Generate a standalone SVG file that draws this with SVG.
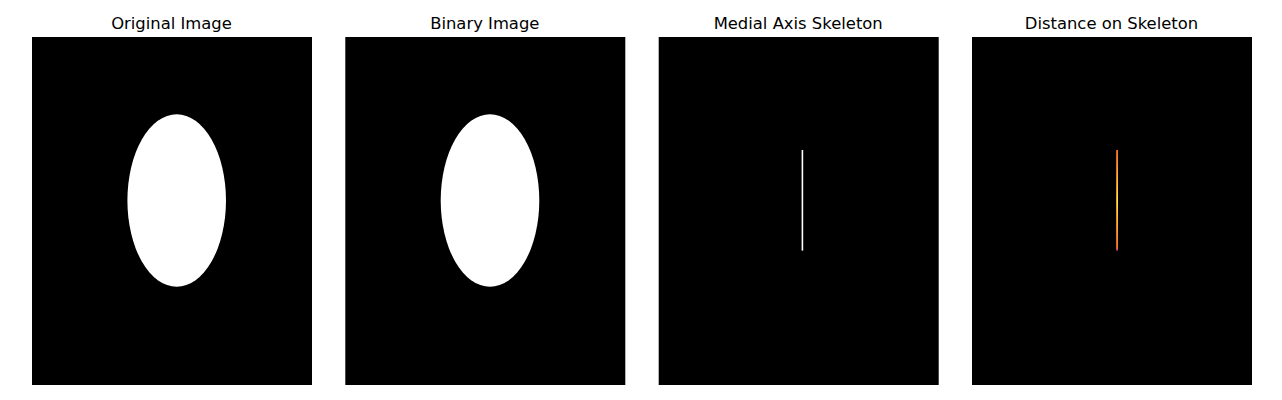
<svg xmlns="http://www.w3.org/2000/svg" width="1282" height="400" viewBox="0 0 1282 400">
<style>
.t{font-family:"DejaVu Sans",sans-serif;font-size:16.4px;fill:#000;text-anchor:middle}
.bg{fill:#000}
</style>
<defs>
<linearGradient id="gA" x1="0" y1="150" x2="0" y2="251" gradientUnits="userSpaceOnUse">
<stop offset="0" stop-color="#e8502a"/>
<stop offset="0.5" stop-color="#f0a020"/>
<stop offset="0.97" stop-color="#e8582a"/>
<stop offset="1" stop-color="#8a2a8a"/>
</linearGradient>
<linearGradient id="gB" x1="0" y1="150" x2="0" y2="251" gradientUnits="userSpaceOnUse">
<stop offset="0" stop-color="#f07a1a"/>
<stop offset="0.5" stop-color="#fae855"/>
<stop offset="0.97" stop-color="#f07a1a"/>
<stop offset="1" stop-color="#a83070"/>
</linearGradient>
</defs>
<rect width="1282" height="400" fill="#fff"/>
<g id="panel1">
<text class="t" x="171.5" y="29">Original Image</text>
<rect class="bg" x="32" y="37" width="280" height="348"/>
<ellipse cx="176.7" cy="200.5" rx="49.3" ry="86.2" fill="#fff"/>
</g>
<g id="panel2">
<text class="t" x="484.8" y="29">Binary Image</text>
<rect class="bg" x="345.3" y="37" width="280" height="348"/>
<ellipse cx="490" cy="200.5" rx="49.3" ry="86.2" fill="#fff"/>
</g>
<g id="panel3">
<text class="t" x="798.2" y="29">Medial Axis Skeleton</text>
<rect class="bg" x="658.7" y="37" width="280" height="348"/>
<rect x="801.6" y="150" width="1.6" height="100.6" fill="#fff"/>
</g>
<g id="panel4">
<text class="t" x="1111.5" y="29">Distance on Skeleton</text>
<rect class="bg" x="972" y="37" width="280" height="348"/>
<rect x="1116" y="150" width="1" height="100.6" fill="url(#gA)"/>
<rect x="1117" y="150" width="1" height="100.6" fill="url(#gB)"/>
</g>
<g id="connectors"/>
</svg>
